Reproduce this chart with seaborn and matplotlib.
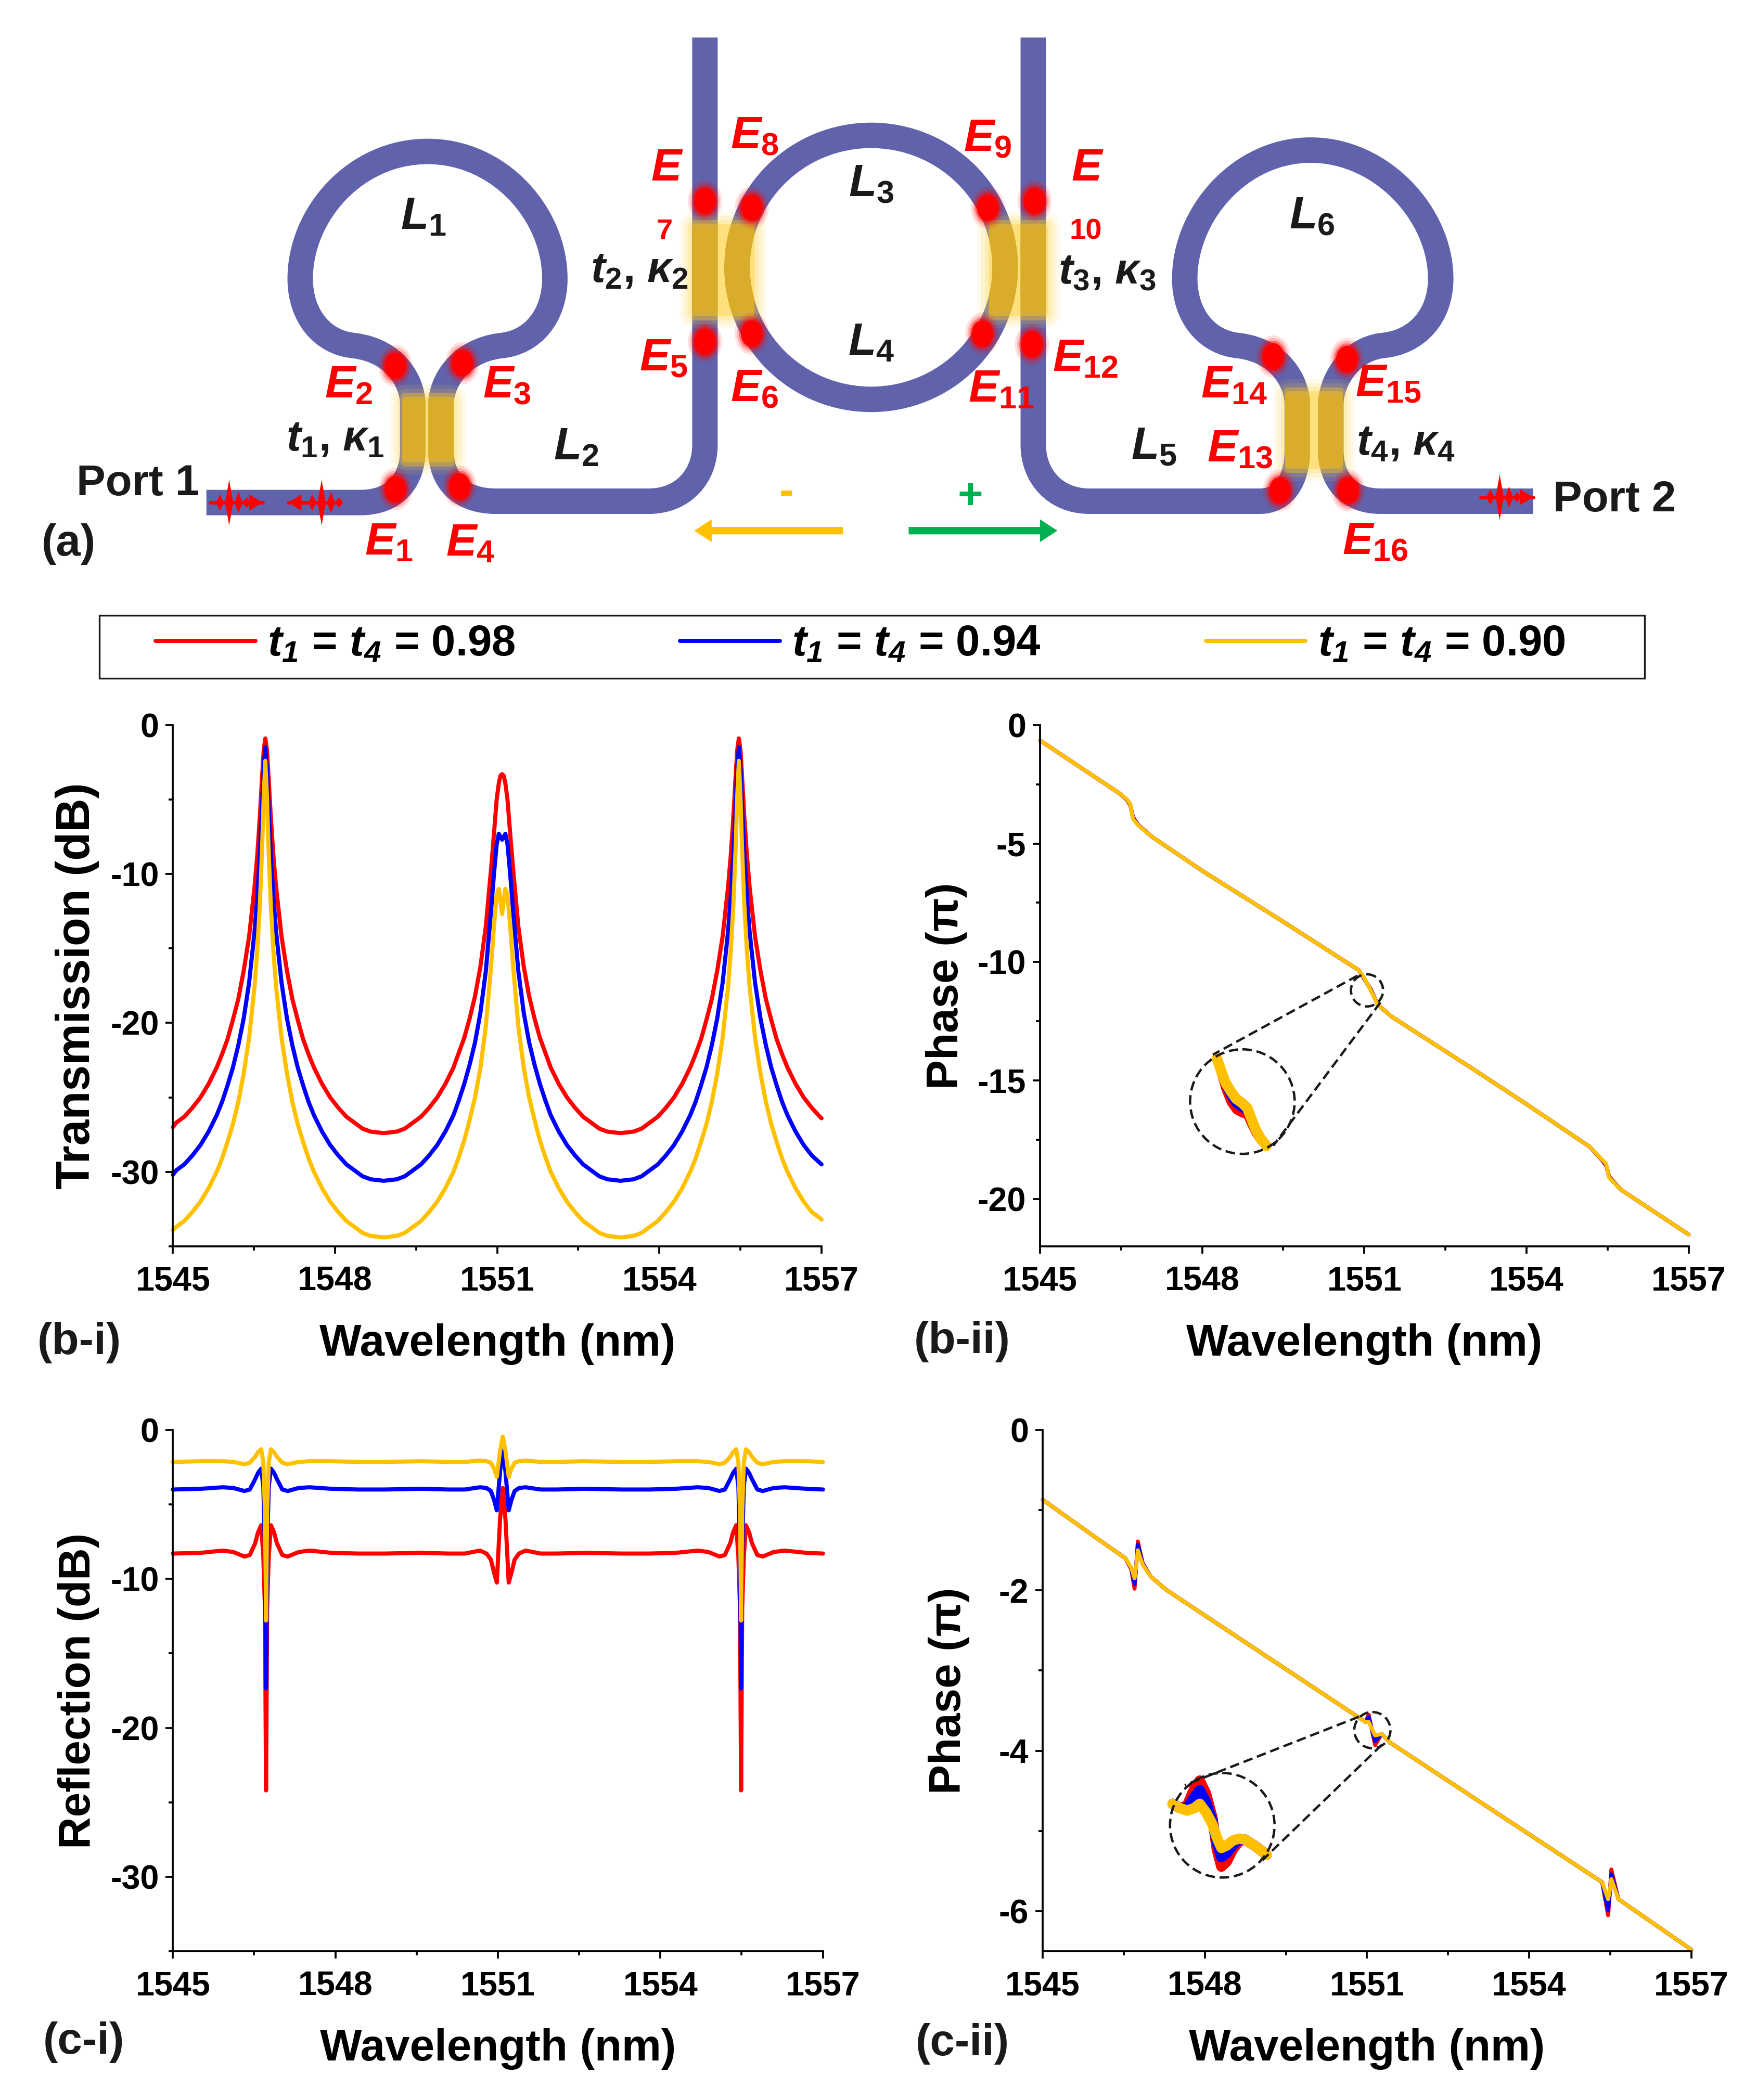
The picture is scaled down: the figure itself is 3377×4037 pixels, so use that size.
# ============================================================
# IMPORT
# ============================================================
import matplotlib
matplotlib.use("Agg")
import matplotlib.pyplot as plt
import seaborn as sns
from matplotlib.path import Path
from matplotlib.patches import PathPatch, Ellipse, Rectangle, FancyBboxPatch, FancyArrow
from matplotlib.ticker import MultipleLocator

# ============================================================
# DATA
# ============================================================
wl_trans = [1545.0, 1545.06, 1545.21, 1545.36, 1545.51, 1545.66, 1545.81, 1545.91, 1546.01, 1546.11, 1546.21, 1546.31, 1546.41, 1546.51, 1546.56, 1546.61, 1546.65, 1546.68, 1546.71,
            1546.74, 1546.77, 1546.81, 1546.86, 1546.91, 1547.01, 1547.11, 1547.21, 1547.31, 1547.41, 1547.51, 1547.61, 1547.76, 1547.91, 1548.06, 1548.21, 1548.36, 1548.51, 1548.66, 1548.90,
            1549.14, 1549.29, 1549.44, 1549.59, 1549.74, 1549.89, 1550.04, 1550.19, 1550.29, 1550.39, 1550.49, 1550.59, 1550.69, 1550.79, 1550.89, 1550.94, 1550.99, 1551.03, 1551.06, 1551.09,
            1551.12, 1551.15, 1551.19, 1551.24, 1551.29, 1551.39, 1551.49, 1551.59, 1551.69, 1551.79, 1551.89, 1551.99, 1552.14, 1552.29, 1552.44, 1552.59, 1552.74, 1552.89, 1553.04, 1553.28,
            1553.52, 1553.67, 1553.82, 1553.97, 1554.12, 1554.27, 1554.42, 1554.57, 1554.67, 1554.77, 1554.87, 1554.97, 1555.07, 1555.17, 1555.27, 1555.32, 1555.37, 1555.41, 1555.44, 1555.47,
            1555.50, 1555.53, 1555.57, 1555.62, 1555.67, 1555.77, 1555.87, 1555.97, 1556.07, 1556.17, 1556.27, 1556.37, 1556.52, 1556.67, 1556.82, 1556.97, 1557.0]
trans_098 = [-27.0, -26.7, -26.3, -25.7, -25.0, -24.1, -23.0, -22.1, -21.1, -19.8, -18.4, -16.5, -14.2, -10.9, -8.8, -6.1, -3.5, -1.7, -0.9,
             -1.7, -3.5, -6.1, -8.8, -10.9, -14.2, -16.5, -18.4, -19.8, -21.1, -22.1, -23.0, -24.1, -25.0, -25.7, -26.3, -26.7, -27.1, -27.3, -27.4,
             -27.3, -27.1, -26.7, -26.3, -25.7, -25.0, -24.1, -23.0, -22.0, -21.0, -19.7, -18.2, -16.2, -13.5, -9.5, -7.3, -5.0, -3.9, -3.4, -3.3,
             -3.4, -3.9, -5.0, -7.3, -9.5, -13.5, -16.2, -18.2, -19.7, -21.0, -22.0, -23.0, -24.1, -25.0, -25.7, -26.3, -26.7, -27.1, -27.3, -27.4,
             -27.3, -27.1, -26.7, -26.3, -25.7, -25.0, -24.1, -23.0, -22.1, -21.1, -19.8, -18.4, -16.5, -14.2, -10.9, -8.8, -6.1, -3.5, -1.7, -0.9,
             -1.7, -3.5, -6.1, -8.8, -10.9, -14.2, -16.5, -18.4, -19.8, -21.1, -22.1, -23.0, -24.1, -25.0, -25.7, -26.3, -26.4]
trans_094 = [-30.2, -29.9, -29.5, -28.9, -28.2, -27.3, -26.2, -25.3, -24.2, -23.0, -21.5, -19.7, -17.3, -13.9, -11.6, -8.6, -5.5, -2.9, -1.5,
             -2.9, -5.5, -8.6, -11.6, -13.9, -17.3, -19.7, -21.5, -23.0, -24.2, -25.3, -26.2, -27.3, -28.2, -28.9, -29.5, -29.9, -30.3, -30.5, -30.6,
             -30.5, -30.3, -29.9, -29.5, -28.9, -28.2, -27.3, -26.2, -25.2, -24.1, -22.8, -21.3, -19.3, -16.5, -12.3, -10.0, -8.0, -7.3, -7.5, -7.7,
             -7.5, -7.3, -8.0, -10.0, -12.3, -16.5, -19.3, -21.3, -22.8, -24.1, -25.2, -26.2, -27.3, -28.2, -28.9, -29.5, -29.9, -30.3, -30.5, -30.6,
             -30.5, -30.3, -29.9, -29.5, -28.9, -28.2, -27.3, -26.2, -25.3, -24.2, -23.0, -21.5, -19.7, -17.3, -13.9, -11.6, -8.6, -5.5, -2.9, -1.5,
             -2.9, -5.5, -8.6, -11.6, -13.9, -17.3, -19.7, -21.5, -23.0, -24.2, -25.3, -26.2, -27.3, -28.2, -28.9, -29.4, -29.5]
trans_090 = [-33.9, -33.7, -33.3, -32.7, -32.0, -31.1, -30.0, -29.1, -28.0, -26.8, -25.3, -23.4, -21.0, -17.6, -15.2, -12.0, -8.3, -4.8, -2.4,
             -4.8, -8.3, -12.0, -15.2, -17.6, -21.0, -23.4, -25.3, -26.8, -28.0, -29.1, -30.0, -31.1, -32.0, -32.7, -33.3, -33.7, -34.1, -34.3, -34.4,
             -34.3, -34.1, -33.7, -33.3, -32.7, -32.0, -31.1, -30.0, -29.0, -27.9, -26.5, -25.0, -23.0, -20.2, -16.0, -13.5, -11.4, -11.0, -11.8, -12.7,
             -11.8, -11.0, -11.4, -13.5, -16.0, -20.2, -23.0, -25.0, -26.5, -27.9, -29.0, -30.0, -31.1, -32.0, -32.7, -33.3, -33.7, -34.1, -34.3, -34.4,
             -34.3, -34.1, -33.7, -33.3, -32.7, -32.0, -31.1, -30.0, -29.1, -28.0, -26.8, -25.3, -23.4, -21.0, -17.6, -15.2, -12.0, -8.3, -4.8, -2.4,
             -4.8, -8.3, -12.0, -15.2, -17.6, -21.0, -23.4, -25.3, -26.8, -28.0, -29.1, -30.0, -31.1, -32.0, -32.7, -33.1, -33.2]

wl_tphase = [1545.0, 1546.0, 1546.46, 1546.60, 1546.67, 1546.72, 1546.82, 1547.08, 1548.0, 1549.5, 1550.9, 1551.0,
             1551.12, 1551.25, 1551.5, 1553.0, 1554.0, 1555.17, 1555.38, 1555.47, 1555.53, 1555.74, 1557.0]
tphase_098 = [-0.65, -2.17, -2.87, -3.14, -3.38, -3.88, -4.22, -4.73, -6.15, -8.3, -10.35, -10.72,
              -11.15, -11.8, -12.3, -14.5, -16.0, -17.8, -18.32, -18.58, -19.05, -19.6, -21.5]
tphase_094 = [-0.65, -2.17, -2.87, -3.13, -3.35, -3.92, -4.23, -4.73, -6.15, -8.3, -10.35, -10.7,
              -11.18, -11.8, -12.3, -14.5, -16.0, -17.8, -18.31, -18.54, -19.08, -19.6, -21.5]
tphase_090 = [-0.65, -2.17, -2.87, -3.12, -3.33, -3.96, -4.24, -4.73, -6.15, -8.3, -10.35, -10.68,
              -11.2, -11.8, -12.3, -14.5, -16.0, -17.8, -18.3, -18.5, -19.1, -19.6, -21.5]

wl_tzoom = [1551.0, 1551.02, 1551.042, 1551.07, 1551.097, 1551.125, 1551.153, 1551.175, 1551.194, 1551.22, 1551.25]
tzoom_098 = [-10.7, -10.9, -11.1, -11.28, -11.38, -11.42, -11.45, -11.58, -11.68, -11.78, -11.85]
tzoom_094 = [-10.7, -10.87, -11.05, -11.2, -11.3, -11.35, -11.4, -11.54, -11.65, -11.76, -11.85]
tzoom_090 = [-10.7, -10.85, -11.01, -11.13, -11.23, -11.28, -11.35, -11.5, -11.63, -11.75, -11.85]

wl_refl = [1545.0, 1545.52, 1545.92, 1546.12, 1546.32, 1546.42, 1546.52, 1546.57, 1546.63, 1546.67, 1546.70, 1546.72,
           1546.74, 1546.77, 1546.81, 1546.87, 1546.92, 1547.02, 1547.12, 1547.32, 1547.52, 1547.92, 1548.42, 1548.9,
           1549.59, 1550.09, 1550.39, 1550.67, 1550.79, 1550.87, 1550.93, 1550.98, 1551.04, 1551.09,
           1551.14, 1551.20, 1551.25, 1551.31, 1551.39, 1551.51, 1551.79, 1552.09, 1552.59, 1553.29,
           1553.79, 1554.29, 1554.69, 1554.89, 1555.09, 1555.19, 1555.29, 1555.34, 1555.40, 1555.44, 1555.47, 1555.49,
           1555.51, 1555.54, 1555.58, 1555.64, 1555.69, 1555.79, 1555.89, 1556.09, 1556.29, 1556.69, 1557.0]
refl_098 = [-8.3, -8.25, -8.1, -8.2, -8.5, -8.4, -7.6, -6.9, -6.4, -8.5, -12.0, -24.2,
            -12.0, -8.5, -6.4, -6.9, -7.6, -8.4, -8.5, -8.2, -8.1, -8.25, -8.3, -8.3,
            -8.25, -8.3, -8.3, -8.1, -8.3, -8.7, -9.6, -10.25, -6.0, -3.9,
            -6.0, -10.25, -9.6, -8.7, -8.3, -8.1, -8.3, -8.3, -8.25, -8.3,
            -8.3, -8.25, -8.1, -8.2, -8.5, -8.4, -7.6, -6.9, -6.4, -8.5, -12.0, -24.2,
            -12.0, -8.5, -6.4, -6.9, -7.6, -8.4, -8.5, -8.2, -8.1, -8.25, -8.3]
refl_094 = [-4.0, -3.95, -3.85, -3.9, -4.1, -4.0, -3.3, -2.9, -2.6, -3.8, -8.0, -17.35,
            -8.0, -3.8, -2.6, -2.9, -3.3, -4.0, -4.1, -3.9, -3.85, -3.95, -4.0, -4.0,
            -3.95, -4.0, -4.0, -3.85, -3.9, -4.1, -4.7, -5.4, -2.8, -1.1,
            -2.8, -5.4, -4.7, -4.1, -3.9, -3.85, -4.0, -4.0, -3.95, -4.0,
            -4.0, -3.95, -3.85, -3.9, -4.1, -4.0, -3.3, -2.9, -2.6, -3.8, -8.0, -17.35,
            -8.0, -3.8, -2.6, -2.9, -3.3, -4.0, -4.1, -3.9, -3.85, -3.95, -4.0]
refl_090 = [-2.15, -2.1, -2.1, -2.15, -2.3, -2.2, -1.8, -1.5, -1.3, -2.2, -5.5, -12.8,
            -5.5, -2.2, -1.3, -1.5, -1.8, -2.2, -2.3, -2.15, -2.1, -2.1, -2.15, -2.15,
            -2.1, -2.15, -2.15, -2.05, -2.1, -2.2, -2.6, -3.15, -1.4, -0.45,
            -1.4, -3.15, -2.6, -2.2, -2.1, -2.05, -2.15, -2.15, -2.1, -2.15,
            -2.15, -2.1, -2.1, -2.15, -2.3, -2.2, -1.8, -1.5, -1.3, -2.2, -5.5, -12.8,
            -5.5, -2.2, -1.3, -1.5, -1.8, -2.2, -2.3, -2.15, -2.1, -2.1, -2.15]

wl_rphase = [1545.0, 1546.0, 1546.53, 1546.64, 1546.70, 1546.73, 1546.76, 1546.85, 1547.0, 1547.3, 1549.0,
             1550.97, 1551.03, 1551.15, 1551.27, 1551.43, 1553.5, 1555.35, 1555.46, 1555.49, 1555.52, 1555.65, 1557.0]
rphase_098 = [-0.87, -1.35, -1.6, -1.74, -1.98, -1.7, -1.39, -1.66, -1.83, -2.0, -2.76,
              -3.64, -3.55, -3.93, -3.79, -3.9, -4.82, -5.64, -6.05, -5.8, -5.48, -5.85, -6.48]
rphase_094 = [-0.87, -1.35, -1.6, -1.73, -1.92, -1.7, -1.43, -1.67, -1.83, -2.0, -2.76,
              -3.64, -3.58, -3.88, -3.79, -3.9, -4.82, -5.64, -5.99, -5.78, -5.54, -5.85, -6.48]
rphase_090 = [-0.87, -1.35, -1.6, -1.72, -1.85, -1.7, -1.5, -1.68, -1.83, -2.0, -2.76,
              -3.64, -3.64, -3.81, -3.79, -3.9, -4.82, -5.64, -5.85, -5.75, -5.6, -5.85, -6.48]

wl_rzoom = [1550.90, 1550.94, 1550.98, 1551.02, 1551.05, 1551.085, 1551.12, 1551.145, 1551.17, 1551.20, 1551.235, 1551.27, 1551.30, 1551.36, 1551.42]
rzoom_098 = [-3.62, -3.645, -3.63, -3.53, -3.483, -3.56, -3.70, -3.89, -3.99, -3.96, -3.885, -3.84, -3.83, -3.87, -3.92]
rzoom_094 = [-3.62, -3.645, -3.645, -3.58, -3.54, -3.61, -3.72, -3.85, -3.934, -3.91, -3.86, -3.83, -3.83, -3.87, -3.92]
rzoom_090 = [-3.62, -3.645, -3.66, -3.645, -3.62, -3.67, -3.74, -3.82, -3.88, -3.865, -3.835, -3.825, -3.83, -3.87, -3.92]

series_labels = [r"$\mathit{t}_{\mathcal{1}}$ = $\mathit{t}_{\mathcal{4}}$ = 0.98",
                 r"$\mathit{t}_{\mathcal{1}}$ = $\mathit{t}_{\mathcal{4}}$ = 0.94",
                 r"$\mathit{t}_{\mathcal{1}}$ = $\mathit{t}_{\mathcal{4}}$ = 0.90"]
series_colors = ["#FF0000", "#0000FF", "#FFC000"]
x_ticks = [1545, 1548, 1551, 1554, 1557]

# ============================================================
# STYLE
# ============================================================
sns.set_theme(style="ticks")
plt.rcParams["font.family"] = ["Liberation Sans", "DejaVu Sans"]
plt.rcParams["font.weight"] = "bold"
plt.rcParams["text.color"] = "black"
plt.rcParams["axes.labelcolor"] = "black"
plt.rcParams["axes.edgecolor"] = "black"
plt.rcParams["xtick.color"] = "black"
plt.rcParams["ytick.color"] = "black"
plt.rcParams["axes.labelweight"] = "bold"
plt.rcParams["axes.unicode_minus"] = False
plt.rcParams["mathtext.fontset"] = "custom"
plt.rcParams["mathtext.rm"] = "Liberation Sans:bold"
plt.rcParams["mathtext.it"] = "Liberation Sans:italic:bold"
plt.rcParams["mathtext.bf"] = "Liberation Sans:bold"
plt.rcParams["mathtext.cal"] = "Liberation Sans:italic:bold"

# all layout below is in the pixels of the picture as viewed, 1311 x 1567
W, H = 1311.0, 1567.0
fig = plt.figure(figsize=(3377 / 300, 4037 / 300), dpi=300)


def px_axes(x0, y0, x1, y1, **kw):
    return fig.add_axes([x0 / W, 1 - y1 / H, (x1 - x0) / W, (y1 - y0) / H], **kw)


def draw_lines(ax, x, ys, lw):
    for y, c in zip(ys, series_colors):
        sns.lineplot(x=x, y=y, color=c, linewidth=lw, ax=ax, sort=False, estimator=None,
                     errorbar=None, legend=False, solid_joinstyle="round", clip_on=False)


def style_axes(ax, ylim, major, minor, ylabel, ylab_x, ylab_size=20.5):
    ax.set_xlim(1545, 1557)
    ax.set_ylim(*ylim)
    ax.set_xticks(x_ticks)
    ax.xaxis.set_minor_locator(MultipleLocator(1.5))
    ax.yaxis.set_major_locator(MultipleLocator(major))
    ax.yaxis.set_minor_locator(MultipleLocator(minor))
    ax.tick_params(which="major", length=3.4, width=0.9, labelsize=15.5, pad=5.5)
    ax.tick_params(axis="y", which="major", pad=3)
    ax.tick_params(which="minor", length=2.0, width=0.9)
    ax.set_xlabel("Wavelength (nm)", fontsize=20.5, fontweight="bold")
    ax.set_ylabel(ylabel, fontsize=ylab_size, fontweight="bold")
    ax.xaxis.set_label_coords(0.5, -0.148)
    ax.yaxis.set_label_coords(ylab_x, 0.5)
    for s in ["left", "bottom"]:
        ax.spines[s].set_linewidth(0.9)
    sns.despine(ax=ax)
    ax.patch.set_alpha(0)


# ============================================================
# PANEL (b-i), (b-ii), (c-i), (c-ii)
# ============================================================
ax_bi = px_axes(129, 541, 613, 930)
draw_lines(ax_bi, wl_trans, [trans_098, trans_094, trans_090], 1.9)
style_axes(ax_bi, (-35, 0), 10, 5, "Transmission (dB)", -0.113, 21.5)

ax_bii = px_axes(776, 541, 1260, 930)
draw_lines(ax_bii, wl_tphase, [tphase_098, tphase_094, tphase_090], 1.8)
style_axes(ax_bii, (-22, 0), 5, 2.5, "Phase (π)", -0.112)

ax_ci = px_axes(129, 1067, 614, 1456)
draw_lines(ax_ci, wl_refl, [refl_098, refl_094, refl_090], 1.9)
style_axes(ax_ci, (-35, 0), 10, 5, "Reflection (dB)", -0.113)

ax_cii = px_axes(778, 1067, 1262, 1456)
draw_lines(ax_cii, wl_rphase, [rphase_098, rphase_094, rphase_090], 1.8)
style_axes(ax_cii, (-6.5, 0), 2, 1, "Phase (π)", -0.112)

# magnified parts of the two phase curves
zoom_b = px_axes(908, 790, 945, 855)
zoom_b.set_xlim(1551.0, 1551.25)
zoom_b.set_ylim(-11.85, -10.7)
zoom_b.axis("off")
sns.lineplot(x=wl_tzoom, y=tzoom_098, color=series_colors[0], linewidth=3.6, ax=zoom_b, estimator=None, errorbar=None, clip_on=False)
sns.lineplot(x=wl_tzoom, y=tzoom_094, color=series_colors[1], linewidth=3.6, ax=zoom_b, estimator=None, errorbar=None, clip_on=False)
sns.lineplot(x=wl_tzoom, y=tzoom_090, color=series_colors[2], linewidth=4.8, ax=zoom_b, estimator=None, errorbar=None, clip_on=False)

zoom_c = px_axes(875, 1346, 945, 1384)
zoom_c.set_xlim(1550.90, 1551.42)
zoom_c.set_ylim(-3.92, -3.62)
zoom_c.axis("off")
sns.lineplot(x=wl_rzoom, y=rzoom_098, color=series_colors[0], linewidth=4.8, ax=zoom_c, estimator=None, errorbar=None, clip_on=False)
sns.lineplot(x=wl_rzoom, y=rzoom_094, color=series_colors[1], linewidth=4.8, ax=zoom_c, estimator=None, errorbar=None, clip_on=False)
sns.lineplot(x=wl_rzoom, y=rzoom_090, color=series_colors[2], linewidth=4.8, ax=zoom_c, estimator=None, errorbar=None, clip_on=False)

# ============================================================
# OVERLAY - schematic (a), labels, dashed circles
# ============================================================
ov = fig.add_axes([0, 0, 1, 1], zorder=-1)
ov.set_xlim(0, W)
ov.set_ylim(H, 0)
ov.axis("off")
top = fig.add_axes([0, 0, 1, 1], zorder=5)
top.set_xlim(0, W)
top.set_ylim(H, 0)
top.axis("off")

GUIDE = "#6063AB"
GOLD = "#D9AC2A"
GUIDE_LW = 19 * (3377 / W) * 72 / 300


def make_path(start, *segs):
    verts, codes = [start], [Path.MOVETO]
    for s in segs:
        if len(s) == 2:
            verts.append(s)
            codes.append(Path.LINETO)
        else:
            verts += [s[:2], s[2:4], s[4:6]]
            codes += [Path.CURVE4] * 3
    return Path(verts, codes)


left_guide = make_path((154, 375), (269, 375), (295, 375, 308, 358, 308, 336), (308, 302),
                       (308, 285, 295, 262, 265, 258), (240, 256, 224, 235, 224, 208),
                       (224, 160, 265, 113, 319, 113), (373, 113, 414, 160, 414, 208),
                       (414, 235, 398, 256, 373, 258), (343, 262, 329, 285, 329, 302), (329, 336),
                       (329, 358, 343, 374, 370, 374), (484, 374), (510, 374, 526, 355, 526, 332), (526, 28))
right_guide = make_path((771, 28), (771, 332), (771, 355, 787, 374, 813, 374), (940, 374),
                        (958, 374, 968, 358, 968, 336), (968, 302), (968, 285, 955, 262, 925, 258),
                        (900, 256, 884, 235, 884, 208), (884, 160, 925, 112, 978, 112),
                        (1031, 112, 1075, 160, 1075, 208), (1075, 235, 1058, 256, 1030, 258),
                        (1006, 262, 993, 285, 993, 302), (993, 336), (993, 358, 1006, 374, 1030, 374), (1144, 374))

for p in [left_guide, right_guide]:
    ov.add_patch(PathPatch(p, fill=False, ec=GUIDE, lw=GUIDE_LW, capstyle="butt", joinstyle="round"))
ov.add_patch(Ellipse((650, 199.5), 200, 197, fill=False, ec=GUIDE, lw=GUIDE_LW))


def coupler(x0, y0, x1, y1):
    for grow, a in [(9, 0.10), (6, 0.14), (3, 0.22), (0, 0.45)]:
        ov.add_patch(FancyBboxPatch((x0 - grow, y0 - grow), x1 - x0 + 2 * grow, y1 - y0 + 2 * grow,
                                    boxstyle="round,pad=0,rounding_size=%d" % (grow + 4),
                                    fc="#FFD23F", ec="none", alpha=a))
    # gold fades out at the ends of the coupling region
    for shrink, a in [(-3, 0.35), (0, 0.5), (3, 1.0)]:
        box = Rectangle((x0, y0 + shrink), x1 - x0, y1 - y0 - 2 * shrink, transform=ov.transData)
        for p in [left_guide, right_guide]:
            g = PathPatch(p, fill=False, ec=GOLD, lw=GUIDE_LW, capstyle="butt", alpha=a)
            ov.add_patch(g)
            g.set_clip_path(box)
        g = Ellipse((650, 199.5), 200, 197, fill=False, ec=GOLD, lw=GUIDE_LW, alpha=a)
        ov.add_patch(g)
        g.set_clip_path(box)


coupler(300, 296, 339, 345)
coupler(516, 167, 563, 236)
coupler(738, 167, 782, 236)
coupler(959, 292, 1002, 350)

# red field points
for cx, cy in [(295, 365), (343, 363), (295, 273), (345, 271), (526, 150), (561, 155), (526, 255), (561, 249),
               (737, 155), (772, 150), (733, 249), (770, 257), (950, 266), (1005, 268), (955, 366), (1006, 366)]:
    for k, a in [(1.5, 0.12), (1.3, 0.2), (1.12, 0.4), (0.95, 1.0)]:
        ov.add_patch(Ellipse((cx, cy), 17 * k, 21 * k, fc="#FF0000", ec="none", alpha=a))


def wave(x, y, direction):
    ov.plot([x - 14, x + 12], [y, y], color="#FF0000", lw=1.6)
    for dx, h in [(0, 17), (7, 8), (-7, 6), (13, 4)]:
        ov.fill([x + dx - 3, x + dx, x + dx + 3, x + dx], [y, y - h, y, y + h], color="#FF0000", lw=0)
    tip = x + 25 * direction
    ov.fill([tip, tip - 10 * direction, tip - 10 * direction], [y, y - 6, y + 6], color="#FF0000", lw=0)
    ov.plot([x, tip], [y, y], color="#FF0000", lw=1.6)


wave(171, 375, 1)
wave(240, 375, -1)
wave(1119, 371, 1)

ov.add_patch(FancyArrow(629, 396, -111, 0, width=5.5, head_width=17, head_length=13,
                        length_includes_head=True, fc="#FFC000", ec="none"))
ov.add_patch(FancyArrow(678, 396, 111, 0, width=5.5, head_width=17, head_length=13,
                        length_includes_head=True, fc="#00B050", ec="none"))
ov.text(587, 368, "-", color="#FFC000", fontsize=20, ha="center", va="center")
ov.text(724, 371, "+", color="#00B050", fontsize=20, ha="center", va="center")

# field labels
e_labels = [("1", 290, 405), ("4", 351, 406), ("2", 260, 288), ("3", 378, 288), ("8", 563, 102), ("5", 495, 268),
            ("6", 563, 291), ("9", 737, 104), ("11", 747, 291), ("12", 810, 268), ("14", 921, 288), ("15", 1036, 287),
            ("13", 925, 336), ("16", 1026, 405)]
for n, x, y in e_labels:
    top.text(x, y, r"$\mathit{E}_{\mathrm{%s}}$" % n, color="#FF0000", fontsize=21, ha="center", va="center")
top.text(497, 126, "E", color="#FF0000", fontsize=21, style="italic", ha="center", va="center")
top.text(811, 126, "E", color="#FF0000", fontsize=21, style="italic", ha="center", va="center")
top.text(496, 173, "7", color="#FF0000", fontsize=13.5, ha="center", va="center")
top.text(810, 173, "10", color="#FF0000", fontsize=13.5, ha="center", va="center")

for n, x, y in [("1", 316, 162), ("2", 430, 334), ("3", 650, 138), ("4", 650, 256), ("5", 861, 334), ("6", 979, 162)]:
    top.text(x, y, r"$\mathit{L}_{\mathrm{%s}}$" % n, color="k", fontsize=21, ha="center", va="center")
for n, x, y in [("1", 250, 328), ("2", 477, 202), ("3", 826, 203), ("4", 1049, 331)]:
    top.text(x, y, r"$\mathit{t}_{\mathrm{%s}}$, $\mathit{\kappa}_{\mathrm{%s}}$" % (n, n), color="k", fontsize=20,
             ha="center", va="center")

top.text(57, 361, "Port 1", color="k", fontsize=20, ha="left", va="center")
top.text(1159, 373, "Port 2", color="k", fontsize=20, ha="left", va="center")
for s, x, y in [("(a)", 31, 406), ("(b-i)", 28, 1002), ("(b-ii)", 682, 1001), ("(c-i)", 32, 1524), ("(c-ii)", 683, 1525)]:
    top.text(x, y, s, color="k", fontsize=20.5, ha="left", va="center")

# dashed circles of the magnified parts
for (cx, cy, r) in [(927, 822, 39), (1020, 739, 12), (912, 1362, 39), (1024, 1291, 13.5)]:
    top.add_patch(Ellipse((cx, cy), 2 * r, 2 * r, fill=False, ec="k", lw=1.1, ls=(0, (4, 2))))
for x0, y0, x1, y1 in [(1013, 728, 905, 787), (1030, 748, 950, 855), (1014, 1281, 884, 1332), (1031, 1302, 942, 1388)]:
    top.plot([x0, x1], [y0, y1], color="k", lw=1.1, ls=(0, (4, 2)))

# ============================================================
# LEGEND
# ============================================================
ov.add_patch(Rectangle((74, 459), 1153, 47, fc="white", ec="k", lw=0.8))
handles = ax_bi.get_lines()[:3]
fig.legend(handles, series_labels, ncol=3, loc="center", bbox_to_anchor=(642 / W, 1 - 481 / H),
           fontsize=20, frameon=False, handlelength=2.3, handletextpad=0.28, columnspacing=3.8,
           borderpad=0, borderaxespad=0)

fig.savefig("out.png", dpi=300)
